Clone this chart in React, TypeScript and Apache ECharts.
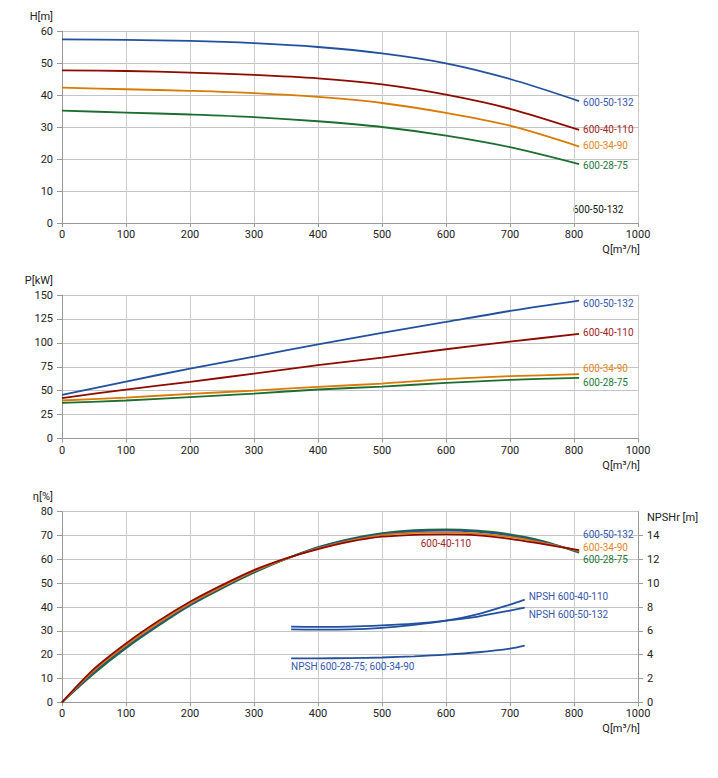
import React, { useEffect, useRef } from 'react';
import * as echarts from 'echarts';

// flow points for H and P curves [m3/h]
const qHP = [0, 100, 200, 300, 400, 500, 600, 700, 808];
// head H [m]
const h50_132 = [57.4, 57.2, 56.9, 56.2, 55.0, 53.0, 49.9, 45.0, 38.1];
const h40_110 = [47.7, 47.5, 47.0, 46.3, 45.2, 43.3, 40.1, 35.7, 29.1];
const h34_90 = [42.3, 41.8, 41.3, 40.6, 39.4, 37.5, 34.4, 30.4, 23.9];
const h28_75 = [35.1, 34.5, 33.9, 33.1, 31.8, 30.0, 27.3, 23.7, 18.4];
// power P [kW]
const p50_132 = [45.6, 59.5, 73.1, 85.6, 98.5, 110.3, 121.8, 133.3, 144.1];
const p40_110 = [42.1, 51.2, 59.2, 67.9, 76.6, 84.6, 93.3, 101.3, 109.3];
const p34_90 = [39.7, 42.8, 46.6, 50.1, 54.0, 57.4, 62.0, 65.1, 67.2];
const p28_75 = [37.2, 39.7, 43.2, 47.0, 51.2, 54.3, 58.1, 61.3, 63.3];
// efficiency [%]
const qEta = [0, 50, 100, 150, 200, 250, 300, 350, 400, 450, 500, 550, 600, 650, 700, 750, 808];
const eta40_110 = [0, 14.0, 24.7, 34.0, 42.2, 49.2, 55.5, 60.4, 64.3, 67.4, 69.5, 70.3, 70.5, 70.1, 68.6, 66.5, 63.9];
const eta34_90 = [0, 13.3, 23.9, 33.2, 41.5, 48.5, 55.0, 60.2, 64.6, 67.9, 70.2, 71.1, 71.3, 70.8, 69.4, 67.0, 63.5];
const eta50_132 = [0, 12.7, 23.3, 32.6, 41.0, 48.1, 54.7, 60.2, 64.9, 68.3, 70.6, 71.8, 72.1, 71.5, 70.0, 67.4, 63.2];
const eta28_75 = [0, 12.1, 22.7, 32.0, 40.6, 47.8, 54.4, 60.2, 65.1, 68.6, 71.0, 72.3, 72.6, 72.0, 70.5, 67.8, 62.8];
// NPSHr [m]
const qNpsh = [358, 400, 450, 500, 550, 600, 650, 700, 723];
const npsh50_132 = [6.35, 6.33, 6.35, 6.45, 6.6, 6.85, 7.2, 7.7, 7.95];
const npsh40_110 = [6.12, 6.1, 6.12, 6.25, 6.5, 6.85, 7.4, 8.2, 8.62];
const npsh28_75 = [3.69, 3.69, 3.71, 3.76, 3.86, 4.0, 4.2, 4.5, 4.75];

const FONT = 'Roboto';
const BLUE = '#22509f';
const RED = '#8c0a00';
const ORANGE = '#d97a05';
const GREEN = '#1b6e30';
const BLUE_L = '#3557ad';
const RED_L = '#a3231c';
const ORANGE_L = '#e0861c';
const GREEN_L = '#24773a';

const pairs = (xs: number[], ys: number[]) => xs.map((x, i) => [x, ys[i]]);

const xAxis = (gridIndex: number) => ({
  type: 'value',
  gridIndex,
  min: 0,
  max: 900,
  interval: 100,
  axisLine: { show: true, onZero: false, lineStyle: { color: '#999' } },
  axisTick: { show: true, length: 4, lineStyle: { color: '#999' } },
  axisLabel: {
    fontSize: 11,
    color: '#222',
    margin: 6,
    fontFamily: FONT,
    formatter: (v: number) => (v === 900 ? '1000' : String(v)),
  },
  splitLine: { show: true, lineStyle: { color: '#cbcbcb' } },
  name: 'Q[m³/h]',
  nameLocation: 'end',
  nameGap: 2,
  nameTextStyle: {
    align: 'right',
    verticalAlign: 'top',
    padding: [21, 0, 0, 0],
    fontSize: 11,
    color: '#222',
    fontFamily: FONT,
  },
});

const yAxis = (gridIndex: number, name: string, max: number, interval: number) => ({
  type: 'value',
  gridIndex,
  min: 0,
  max,
  interval,
  axisLine: { show: true, lineStyle: { color: '#999' } },
  axisTick: { show: true, length: 5, lineStyle: { color: '#999' } },
  axisLabel: { fontSize: 11, color: '#222', margin: 9, fontFamily: FONT },
  splitLine: { show: true, lineStyle: { color: '#c4c4c4' } },
  name,
  nameLocation: 'end',
  nameGap: 15,
  nameTextStyle: {
    align: 'right',
    verticalAlign: 'middle',
    padding: [0, 9, 0, 0],
    fontSize: 11,
    color: '#222',
    fontFamily: FONT,
  },
});

const line = (
  name: string,
  data: number[][],
  color: string,
  axis: number,
  label?: { color: string; dy: number },
) => ({
  name,
  type: 'line',
  xAxisIndex: axis === 3 ? 2 : axis,
  yAxisIndex: axis,
  data,
  smooth: 0.3,
  showSymbol: false,
  symbol: 'none',
  lineStyle: { color, width: 1.8 },
  itemStyle: { color },
  endLabel: label
    ? {
        show: true,
        formatter: name,
        color: label.color,
        fontSize: 10,
        fontFamily: FONT,
        distance: 4,
        offset: [0, label.dy],
      }
    : { show: false },
});

const App: React.FC = () => {
  const chartRef = useRef<HTMLDivElement>(null);

  useEffect(() => {
    const chart = echarts.init(chartRef.current as HTMLDivElement, undefined, { renderer: 'svg' });

    const option: any = {
      animation: false,
      textStyle: { fontFamily: FONT },
      grid: [
        { left: 62, right: 80, top: 31, height: 192 },
        { left: 62, right: 80, top: 295, height: 143.5 },
        { left: 62, right: 80, top: 511.7, height: 190.6 },
      ],
      xAxis: [xAxis(0), xAxis(1), xAxis(2)],
      yAxis: [
        yAxis(0, 'H[m]', 60, 10),
        yAxis(1, 'P[kW]', 150, 25),
        yAxis(2, 'η[%]', 80, 10),
        {
          type: 'value',
          gridIndex: 2,
          position: 'right',
          min: 0,
          max: 16,
          interval: 2,
          axisLine: { show: true, lineStyle: { color: '#999' } },
          axisTick: { show: true, length: 5, lineStyle: { color: '#999' } },
          axisLabel: { fontSize: 11, color: '#222', margin: 9, fontFamily: FONT, showMaxLabel: false },
          splitLine: { show: false },
          name: 'NPSHr [m]',
          nameLocation: 'end',
          nameGap: -6,
          nameTextStyle: {
            align: 'left',
            verticalAlign: 'middle',
            padding: [0, 0, 0, 9],
            fontSize: 11,
            color: '#222',
            fontFamily: FONT,
          },
        },
      ],
      graphic: [
        {
          type: 'text',
          left: 573,
          top: 204,
          style: { text: '600-50-132', fontSize: 10, fill: '#111', fontFamily: FONT },
        },
      ],
      series: [
        // H
        line('600-50-132', pairs(qHP, h50_132), BLUE, 0, { color: BLUE_L, dy: 1 }),
        line('600-40-110', pairs(qHP, h40_110), RED, 0, { color: RED_L, dy: 0 }),
        line('600-34-90', pairs(qHP, h34_90), ORANGE, 0, { color: ORANGE_L, dy: -1.5 }),
        line('600-28-75', pairs(qHP, h28_75), GREEN, 0, { color: GREEN_L, dy: 1.5 }),
        // P
        line('600-50-132', pairs(qHP, p50_132), BLUE, 1, { color: BLUE_L, dy: 3 }),
        line('600-40-110', pairs(qHP, p40_110), RED, 1, { color: RED_L, dy: -1.5 }),
        line('600-34-90', pairs(qHP, p34_90), ORANGE, 1, { color: ORANGE_L, dy: -6 }),
        line('600-28-75', pairs(qHP, p28_75), GREEN, 1, { color: GREEN_L, dy: 5 }),
        // efficiency
        line('600-28-75', pairs(qEta, eta28_75), GREEN, 2, { color: GREEN_L, dy: 7 }),
        line('600-50-132', pairs(qEta, eta50_132), BLUE, 2, { color: BLUE_L, dy: -17 }),
        line('600-34-90', pairs(qEta, eta34_90), ORANGE, 2, { color: ORANGE_L, dy: -4 }),
        {
          ...line('600-40-110', pairs(qEta, eta40_110), RED, 2),
          markPoint: {
            symbol: 'circle',
            symbolSize: 1,
            itemStyle: { color: 'rgba(0,0,0,0)' },
            label: {
              show: true,
              position: 'bottom',
              distance: 4,
              formatter: '600-40-110',
              color: RED_L,
              fontSize: 10,
              fontFamily: FONT,
            },
            data: [{ type: 'max' }],
          },
        },
        // NPSHr
        line('NPSH 600-40-110', pairs(qNpsh, npsh40_110), BLUE, 3, { color: BLUE_L, dy: -3 }),
        line('NPSH 600-50-132', pairs(qNpsh, npsh50_132), BLUE, 3, { color: BLUE_L, dy: 6.5 }),
        {
          ...line('NPSH 600-28-75; 600-34-90', pairs(qNpsh, npsh28_75), BLUE, 3),
          markPoint: {
            symbol: 'circle',
            symbolSize: 1,
            itemStyle: { color: 'rgba(0,0,0,0)' },
            label: {
              show: true,
              position: 'bottom',
              align: 'left',
              distance: 3,
              formatter: 'NPSH 600-28-75; 600-34-90',
              color: BLUE_L,
              fontSize: 10,
              fontFamily: FONT,
            },
            data: [{ coord: [qNpsh[0], npsh28_75[0]] }],
          },
        },
      ],
    };

    chart.setOption(option);
    return () => {
      chart.dispose();
    };
  }, []);

  return (
    <div
      ref={chartRef}
      style={{ position: 'fixed', left: 0, top: 0, width: 718, height: 778, background: '#fff' }}
    />
  );
};

export default App;
